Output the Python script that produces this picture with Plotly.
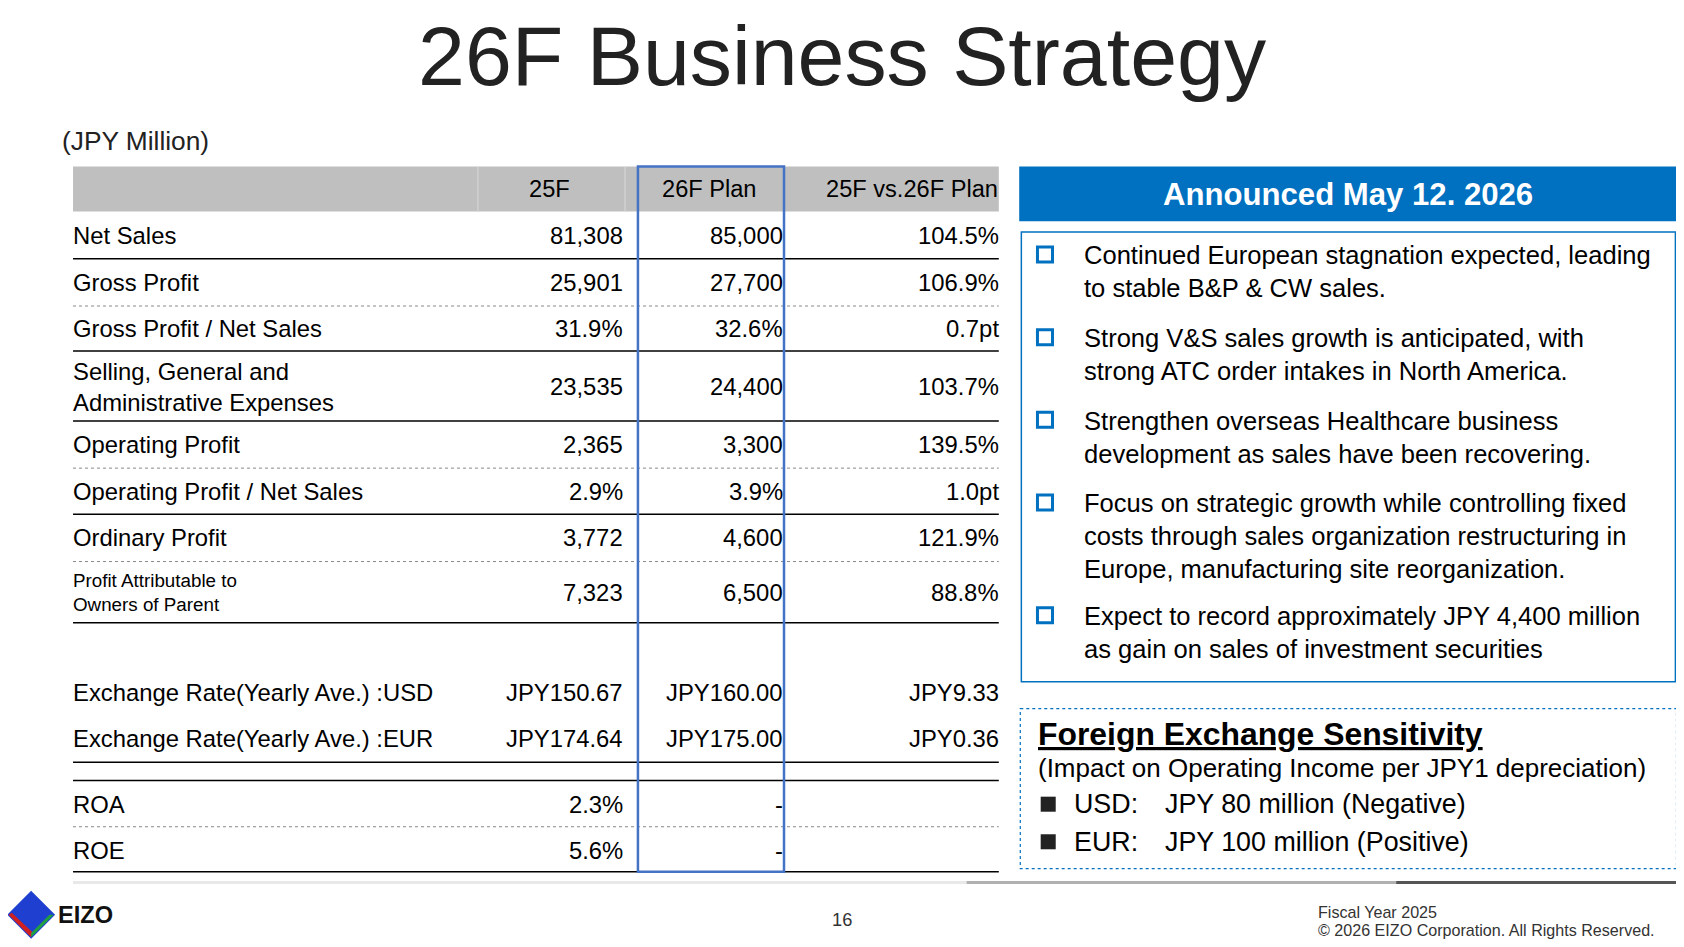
import plotly.graph_objects as go

# slide is laid out in a 1568 x 882 coordinate space, stretched to the window
W, H = 1568, 882
K = 1684 / 1568  # font scale
OFF = 8 / K      # page body margin, in slide units

row_labels = ["Net Sales", "Gross Profit", "Gross Profit / Net Sales",
              "Selling, General and<br>Administrative Expenses", "Operating Profit",
              "Operating Profit / Net Sales", "Ordinary Profit",
              "Profit Attributable to<br>Owners of Parent", "",
              "Exchange Rate(Yearly Ave.) :USD", "Exchange Rate(Yearly Ave.) :EUR", "",
              "ROA", "ROE"]
col_25f = ["81,308", "25,901", "31.9%", "23,535", "2,365", "2.9%", "3,772", "7,323", "",
           "JPY150.67", "JPY174.64", "", "2.3%", "5.6%"]
col_26f = ["85,000", "27,700", "32.6%", "24,400", "3,300", "3.9%", "4,600", "6,500", "",
           "JPY160.00", "JPY175.00", "", "-", "-"]
col_diff = ["104.5%", "106.9%", "0.7pt", "103.7%", "139.5%", "1.0pt", "121.9%", "88.8%", "",
            "JPY9.33", "JPY0.36", "", "", ""]
headers = ["25F", "26F Plan", "25F vs.26F Plan"]

bullets = ["Continued European stagnation expected, leading<br>to stable B&P & CW sales.",
           "Strong V&S sales growth is anticipated, with<br>strong ATC order intakes in North America.",
           "Strengthen overseas Healthcare business<br>development as sales have been recovering.",
           "Focus on strategic growth while controlling fixed<br>costs through sales organization restructuring in<br>Europe, manufacturing site reorganization.",
           "Expect to record approximately JPY 4,400 million<br>as gain on sales of investment securities"]
fx_ccy = ["USD:", "EUR:"]
fx_impact = ["JPY 80 million (Negative)", "JPY 100 million (Positive)"]
footer = ["Fiscal Year 2025", "© 2026 EIZO Corporation. All Rights Reserved."]

row_y = [219, 263, 306, 360, 414, 458, 501, 552, 602, 645, 688, 719, 749, 792]
lines = [(241, "solid"), (285, "dot"), (327, "solid"), (392, "solid"), (436, "dot"),
         (479, "solid"), (523, "dot"), (580, "solid"), (710, "solid"), (727, "solid"),
         (770, "dot"), (812, "solid")]
bullet_y = [237, 314, 391, 468, 573]

FONT = "Liberation Sans, Arial, sans-serif"
fig = go.Figure()
ann, shp = [], []

def txt(x, y, s, size, anchor="left", color="black", yanchor="middle"):
    ann.append(dict(x=x, y=y, text=s, xanchor=anchor, yanchor=yanchor, showarrow=False,
                    align=anchor if anchor != "center" else "center",
                    font=dict(family=FONT, size=size * K, color=color)))

txt(784, 52, "26F Business Strategy", 78.5, "center", "#222222")
txt(56, 131, "(JPY Million)", 24.5, color="#222222")

# table header
shp.append(dict(type="rect", x0=68, x1=930, y0=155, y1=197, fillcolor="#bfbfbf", line_width=0))
for xs in (445, 582):
    shp.append(dict(type="line", x0=xs, x1=xs, y0=155, y1=197, line=dict(color="#d9d9d9", width=1)))
txt(512, 176, headers[0], 22, "center")
txt(661, 176, headers[1], 22, "center")
txt(931, 176, headers[2], 22, "right")

for i, y in enumerate(row_y):
    small = i == 7
    txt(66.5, y, row_labels[i], 17.5 if small else 22.2)
    txt(582, y, col_25f[i], 22.2, "right")
    txt(731, y, col_26f[i], 22.2, "right")
    txt(932, y, col_diff[i], 22.2, "right")
for y, d in lines:
    shp.append(dict(type="line", x0=68, x1=930, y0=y, y1=y,
                    line=dict(color="black" if d == "solid" else "#888888",
                              width=1.5 if d == "solid" else 1, dash=d)))
shp.append(dict(type="rect", x0=594, x1=730, y0=155, y1=812, line=dict(color="#4472c4", width=2.5)))

# right panel
shp.append(dict(type="rect", x0=949, x1=1561, y0=155, y1=206, fillcolor="#0070c0", line_width=0))
txt(1255, 181, "<b>Announced May 12. 2026</b>", 29, "center", "white")
shp.append(dict(type="rect", x0=951, x1=1560, y0=216, y1=635, line=dict(color="#0070c0", width=1.5)))
for y, s in zip(bullet_y, bullets):
    shp.append(dict(type="rect", x0=966, x1=980, y0=y - 7, y1=y + 7, line=dict(color="#0070c0", width=3)))
    txt(1007, y - 14, s, 23.8, yanchor="top")

shp.append(dict(type="rect", x0=950, x1=1561, y0=660, y1=809, line=dict(color="#0070c0", width=1.2, dash="dot")))
txt(965, 684, "<b><u>Foreign Exchange Sensitivity</u></b>", 29.7)
txt(965, 715, "(Impact on Operating Income per JPY1 depreciation)", 24.2)
for y, c, v in zip([749, 784], fx_ccy, fx_impact):
    shp.append(dict(type="rect", x0=969, x1=983, y0=y - 7, y1=y + 7, fillcolor="#222222", line_width=0))
    txt(998, y, c, 25)
    txt(1083, y, v, 25)

# footer
shp.append(dict(type="line", x0=68, x1=900, y0=822, y1=822, line=dict(color="#e8e8e8", width=3)))
shp.append(dict(type="line", x0=900, x1=1300, y0=822, y1=822, line=dict(color="#b0b0b0", width=3)))
shp.append(dict(type="line", x0=1300, x1=1568, y0=822, y1=822, line=dict(color="#555555", width=3)))
txt(784, 856, "16", 17, "center", "#333333")
txt(1225, 849, footer[0], 15, color="#333333")
txt(1225, 866, footer[1], 15, color="#333333")
shp.append(dict(type="path", path="M 29,831 L 50,852 L 29,873 L 8,852 Z", fillcolor="#1f3fd0", line=dict(color="#1f3fd0")))
shp.append(dict(type="path", path="M 8,852 L 29,873 L 31,869 L 11,850 Z", fillcolor="#d02020", line_width=0))
shp.append(dict(type="path", path="M 29,873 L 50,852 L 46,852 L 29,869 Z", fillcolor="#20a040", line_width=0))
txt(52, 852, "<b>EIZO</b>", 22, color="#111111")

fig.update_layout(width=1684 - 16, height=947 - 16, margin=dict(l=0, r=0, t=0, b=0),
                  paper_bgcolor="white", plot_bgcolor="white", annotations=ann, shapes=shp,
                  xaxis=dict(range=[OFF, W - OFF], visible=False, fixedrange=True),
                  yaxis=dict(range=[H - OFF, OFF], visible=False, fixedrange=True), showlegend=False)
fig.write_html("out.html", config={"displayModeBar": False})
